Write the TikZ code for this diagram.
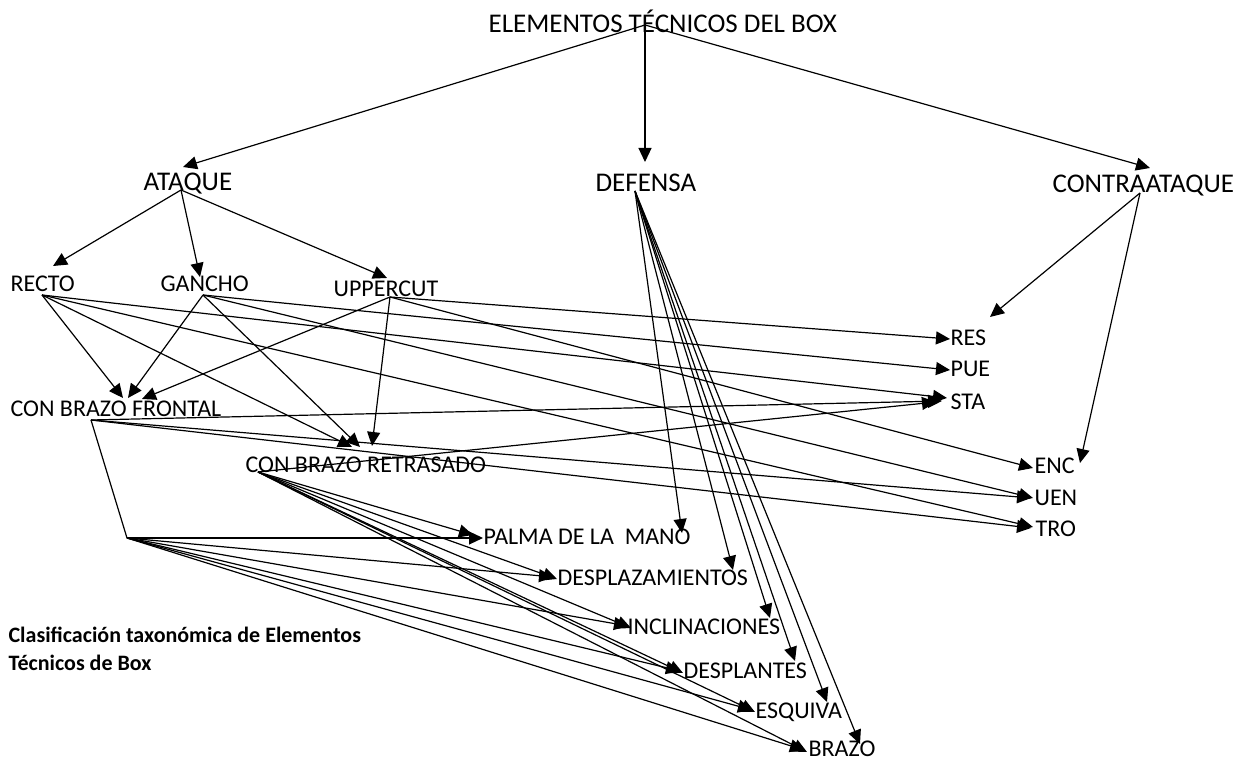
\documentclass[tikz,border=0pt]{standalone}
\usepackage{fontspec}
\setmainfont{Carlito}
\usetikzlibrary{arrows.meta}

\begin{document}
\begin{tikzpicture}[x=0.5pt,y=-0.5pt,line width=0.6pt,>={Triangle[length=7pt,width=6.5pt]}]
    \tikzstyle{every node}=[font=\fontsize{12}{14}\selectfont,inner sep=0pt,anchor=base west]
    \tikzstyle{branch}=[font=\fontsize{13.5}{16}\selectfont]
    \tikzstyle{link}=[->]
    \tikzstyle{caption}=[font=\fontsize{11}{14}\selectfont\bfseries,align=left,anchor=north west]

    \useasboundingbox (0,0) rectangle (1238,763);

    % Draw the root and the three main branches
    \node[branch] (root) at (488,33) {ELEMENTOS TÉCNICOS DEL BOX};
    \node[branch] (atq) at (143,191) {ATAQUE};
    \node[branch] (def) at (595,192) {DEFENSA};
    \node[branch] (con) at (1052,193) {CONTRAATAQUE};

    % Draw the attack nodes
    \node (recto) at (10,292) {RECTO};
    \node (gancho) at (160,292) {GANCHO};
    \node (upper) at (333,297) {UPPERCUT};
    \node (cbf) at (10,417) {CON BRAZO FRONTAL};
    \node (cbr) at (245,473) {CON BRAZO RETRASADO};
    \coordinate (cbf-joint) at (127,538);

    % Draw the defense nodes
    \node (palma) at (483,545) {PALMA DE LA\ \ MANO};
    \node (despl) at (557,586) {DESPLAZAMIENTOS};
    \node (incl) at (627,635) {INCLINACIONES};
    \node (dplan) at (683,679) {DESPLANTES};
    \node (esq) at (755,719) {ESQUIVA};
    \node (brazo) at (808,757) {BRAZO};

    % Draw the counterattack nodes
    \node (res) at (950,346) {RES};
    \node (pue) at (950,377) {PUE};
    \node (sta) at (950,410) {STA};
    \node (enc) at (1034,474) {ENC};
    \node (uen) at (1034,506) {UEN};
    \node (tro) at (1035,537) {TRO};

    \node[caption] (title) at (8,626) {Clasificación taxonómica de Elementos\\Técnicos de Box};

    % Connect the root with the main branches
    \foreach \dest/\dx/\dy in {atq/40/-24,def/50/-30,con/98/-25}
        \draw[link] ([shift={(157,-8)}]root.base west) -- ([shift={(\dx,\dy)}]\dest.base west);

    % Connect ataque, defensa and contraataque
    \foreach \dest/\dx/\dy in {recto/43/-26,gancho/40/-15,upper/54/-19}
        \draw[link] ([shift={(38,-1)}]atq.base west) -- ([shift={(\dx,\dy)}]\dest.base west);
    \foreach \dest/\dx/\dy in {palma/199/-12,despl/176/-16,incl/143/-17,dplan/112/-18,esq/72/-17,brazo/52/-13}
        \draw[link] ([shift={(40,-1)}]def.base west) -- ([shift={(\dx,\dy)}]\dest.base west);
    \foreach \dest/\dx/\dy in {res/40/-29,enc/46/-11}
        \draw[link] ([shift={(88,0)}]con.base west) -- ([shift={(\dx,\dy)}]\dest.base west);

    % Connect every punch with the arms and the targets
    \foreach \dest/\dx/\dy in {cbf/113/-19,cbr/107/-26,sta/-3/-12,tro/-2/-10}
        \draw[link] ([shift={(32,3)}]recto.base west) -- ([shift={(\dx,\dy)}]\dest.base west);
    \foreach \dest/\dx/\dy in {cbf/118/-19,cbr/115/-26,pue/0/-7,uen/-1/-8}
        \draw[link] ([shift={(43,3)}]gancho.base west) -- ([shift={(\dx,\dy)}]\dest.base west);
    \foreach \dest/\dx/\dy in {cbf/132/-18,cbr/127/-27,res/0/-7,enc/-1/-6}
        \draw[link] ([shift={(57,0)}]upper.base west) -- ([shift={(\dx,\dy)}]\dest.base west);

    % Connect the arms with the targets and the defenses
    \foreach \dest/\dx/\dy in {sta/-8/-9,uen/-3/-8,tro/-4/-9}
        \draw[link] ([shift={(81,3)}]cbf.base west) -- ([shift={(\dx,\dy)}]\dest.base west);
    \draw ([shift={(81,3)}]cbf.base west) -- (cbf-joint);
    \foreach \dest/\dx/\dy in {palma/0/-7,despl/-4/-9,incl/1/-9,dplan/-3/-8,esq/-3/-9,brazo/-4/-7}
        \draw[link] (cbf-joint) -- ([shift={(\dx,\dy)}]\dest.base west);
    \foreach \dest/\dx/\dy in {sta/-14/-8,palma/-10/-10,despl/0/-7,incl/4/-7,dplan/0/-6,esq/0/-7,brazo/-1/-5}
        \draw[link] ([shift={(13,-1)}]cbr.base west) -- ([shift={(\dx,\dy)}]\dest.base west);
\end{tikzpicture}
\end{document}
